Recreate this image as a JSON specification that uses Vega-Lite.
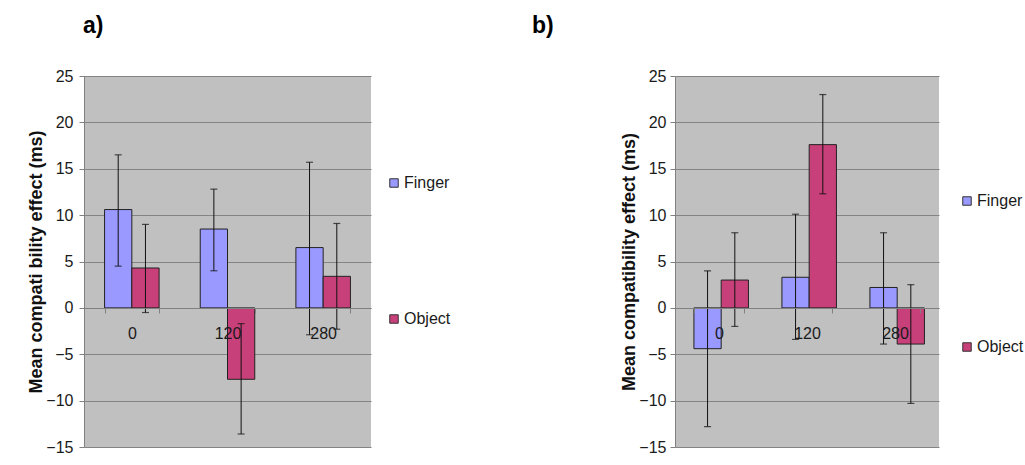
{
  "$schema": "https://vega.github.io/schema/vega-lite/v6.json",
  "padding": {"left": 27, "top": 15, "right": 0, "bottom": 0},
  "background": "white",
  "datasets": {
    "a": [
      {"soa": "0", "type": "Finger", "mean": 10.6, "lo": 4.5, "hi": 16.5},
      {"soa": "0", "type": "Object", "mean": 4.3, "lo": -0.5, "hi": 9.0},
      {"soa": "120", "type": "Finger", "mean": 8.5, "lo": 4.0, "hi": 12.8},
      {"soa": "120", "type": "Object", "mean": -7.7, "lo": -13.6, "hi": -1.7},
      {"soa": "280", "type": "Finger", "mean": 6.5, "lo": -2.9, "hi": 15.7},
      {"soa": "280", "type": "Object", "mean": 3.4, "lo": -2.3, "hi": 9.1}
    ],
    "b": [
      {"soa": "0", "type": "Finger", "mean": -4.4, "lo": -12.8, "hi": 4.0},
      {"soa": "0", "type": "Object", "mean": 3.0, "lo": -2.0, "hi": 8.1},
      {"soa": "120", "type": "Finger", "mean": 3.3, "lo": -3.4, "hi": 10.1},
      {"soa": "120", "type": "Object", "mean": 17.6, "lo": 12.3, "hi": 23.0},
      {"soa": "280", "type": "Finger", "mean": 2.2, "lo": -3.9, "hi": 8.1},
      {"soa": "280", "type": "Object", "mean": -3.9, "lo": -10.3, "hi": 2.5}
    ]
  },
  "config": {
    "view": {"fill": "#C0C0C0", "stroke": null},
    "font": "Liberation Sans, Arial, sans-serif",
    "axis": {
      "labelFont": "Liberation Sans, Arial, sans-serif",
      "labelFontSize": 16,
      "labelColor": "#1a1a1a",
      "titleFont": "Liberation Sans, Arial, sans-serif",
      "titleFontWeight": "bold",
      "titleFontSize": 18,
      "titleColor": "#111",
      "domainColor": "#808080",
      "tickColor": "#808080",
      "gridColor": "#848484"
    },
    "legend": {
      "labelFont": "Liberation Sans, Arial, sans-serif",
      "labelFontSize": 16,
      "labelColor": "#1a1a1a",
      "symbolType": "square",
      "symbolSize": 72,
      "symbolStrokeColor": "#333",
      "symbolStrokeWidth": 1,
      "labelOffset": 2
    },
    "title": {
      "font": "Liberation Sans, Arial, sans-serif",
      "fontSize": 23,
      "fontWeight": "bold",
      "color": "#000",
      "anchor": "start",
      "frame": "group"
    }
  },
  "spacing": 81,
  "resolve": {"legend": {"color": "independent"}},
  "hconcat": [
    {
      "title": {"text": "a)", "dx": -1, "offset": 30},
      "width": 287,
      "height": 371,
      "data": {"name": "a"},
      "encoding": {
        "x": {
          "field": "soa", "type": "nominal", "sort": ["0", "120", "280"],
          "scale": {"paddingInner": 0.43, "paddingOuter": 0.215},
          "axis": {"title": null, "labelAngle": 0, "offset": -139, "tickBand": "extent", "tickSize": 5, "labelPadding": 12, "domainColor": "#808080", "zindex": 1}
        },
        "xOffset": {"field": "type", "type": "nominal", "sort": ["Finger", "Object"]}
      },
      "layer": [
        {
          "mark": {"type": "bar", "stroke": "#222", "strokeWidth": 1},
          "encoding": {
            "y": {
              "field": "mean", "type": "quantitative",
              "scale": {"domain": [-15, 25], "nice": false, "zero": false},
              "axis": {"title": "Mean compati bility effect (ms)", "values": [-15, -10, -5, 0, 5, 10, 15, 20, 25], "tickSize": 5, "labelPadding": 6, "titlePadding": 0, "grid": true}
            },
            "y2": {"datum": 0},
            "color": {
              "field": "type", "type": "nominal",
              "scale": {"domain": ["Finger", "Object"], "range": ["#9999FF", "#C8407A"]},
              "legend": {"title": null, "orient": "none", "legendX": 302, "legendY": 99, "rowPadding": 120}
            }
          }
        },
        {
          "mark": {"type": "rule", "color": "#111", "strokeWidth": 1},
          "encoding": {"y": {"field": "lo", "type": "quantitative"}, "y2": {"field": "hi"}}
        },
        {
          "mark": {"type": "tick", "color": "#111", "size": 7, "thickness": 1.2, "orient": "horizontal"},
          "encoding": {"y": {"field": "lo", "type": "quantitative"}}
        },
        {
          "mark": {"type": "tick", "color": "#111", "size": 7, "thickness": 1.2, "orient": "horizontal"},
          "encoding": {"y": {"field": "hi", "type": "quantitative"}}
        }
      ]
    },
    {
      "title": {"text": "b)", "dx": -143, "offset": 30},
      "width": 264,
      "height": 371,
      "data": {"name": "b"},
      "encoding": {
        "x": {
          "field": "soa", "type": "nominal", "sort": ["0", "120", "280"],
          "scale": {"paddingInner": 0.43, "paddingOuter": 0.215},
          "axis": {"title": null, "labelAngle": 0, "offset": -139, "tickBand": "extent", "tickSize": 5, "labelPadding": 12, "domainColor": "#808080", "zindex": 1}
        },
        "xOffset": {"field": "type", "type": "nominal", "sort": ["Finger", "Object"]}
      },
      "layer": [
        {
          "mark": {"type": "bar", "stroke": "#222", "strokeWidth": 1},
          "encoding": {
            "y": {
              "field": "mean", "type": "quantitative",
              "scale": {"domain": [-15, 25], "nice": false, "zero": false},
              "axis": {"title": "Mean compatibility  effect (ms)", "values": [-15, -10, -5, 0, 5, 10, 15, 20, 25], "tickSize": 5, "labelPadding": 4, "titlePadding": 0, "grid": true}
            },
            "y2": {"datum": 0},
            "color": {
              "field": "type", "type": "nominal",
              "scale": {"domain": ["Finger", "Object"], "range": ["#9999FF", "#C8407A"]},
              "legend": {"title": null, "orient": "none", "legendX": 284, "legendY": 117, "rowPadding": 130}
            }
          }
        },
        {
          "mark": {"type": "rule", "color": "#111", "strokeWidth": 1},
          "encoding": {"y": {"field": "lo", "type": "quantitative"}, "y2": {"field": "hi"}}
        },
        {
          "mark": {"type": "tick", "color": "#111", "size": 7, "thickness": 1.2, "orient": "horizontal"},
          "encoding": {"y": {"field": "lo", "type": "quantitative"}}
        },
        {
          "mark": {"type": "tick", "color": "#111", "size": 7, "thickness": 1.2, "orient": "horizontal"},
          "encoding": {"y": {"field": "hi", "type": "quantitative"}}
        }
      ]
    }
  ]
}
